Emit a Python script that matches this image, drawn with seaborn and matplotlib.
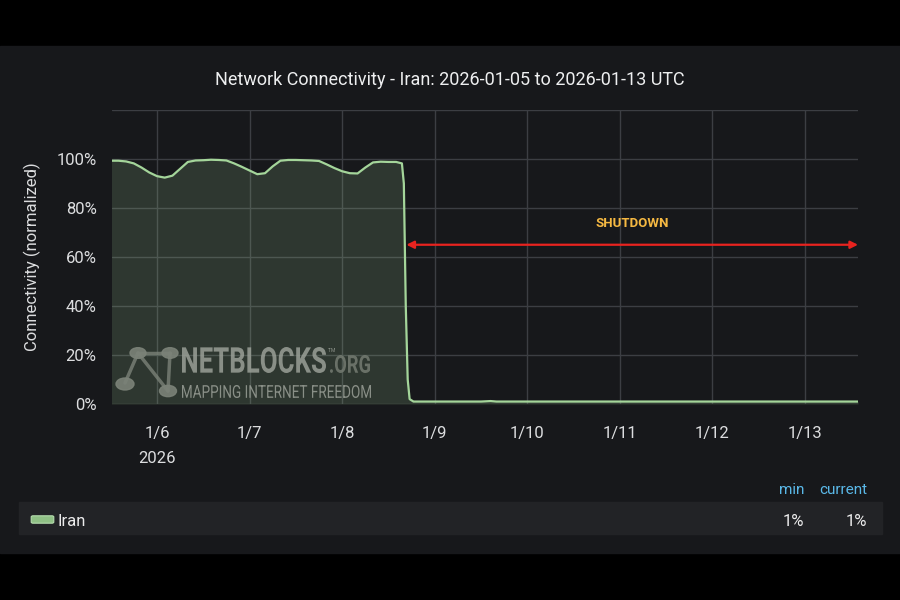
import pandas as pd
import matplotlib
matplotlib.use("Agg")
import matplotlib.pyplot as plt
import seaborn as sns
from matplotlib.patches import Rectangle, FancyBboxPatch, Circle, PathPatch
from matplotlib.lines import Line2D
from matplotlib.textpath import TextPath
from matplotlib.font_manager import FontProperties
from matplotlib.transforms import Affine2D

# --- DATA ---
TIMES = [
    "2026-01-05 12:00", "2026-01-05 14:00", "2026-01-05 16:00", "2026-01-05 18:00",
    "2026-01-05 20:00", "2026-01-05 22:00", "2026-01-06 00:00", "2026-01-06 02:00",
    "2026-01-06 04:00", "2026-01-06 06:00", "2026-01-06 08:00", "2026-01-06 10:00",
    "2026-01-06 12:00", "2026-01-06 14:00", "2026-01-06 16:00", "2026-01-06 18:00",
    "2026-01-06 20:00", "2026-01-06 22:00", "2026-01-07 00:00", "2026-01-07 02:00",
    "2026-01-07 04:00", "2026-01-07 06:00", "2026-01-07 08:00", "2026-01-07 10:00",
    "2026-01-07 12:00", "2026-01-07 14:00", "2026-01-07 16:00", "2026-01-07 18:00",
    "2026-01-07 20:00", "2026-01-07 22:00", "2026-01-08 00:00", "2026-01-08 02:00",
    "2026-01-08 04:00", "2026-01-08 06:00", "2026-01-08 08:00", "2026-01-08 10:00",
    "2026-01-08 12:00", "2026-01-08 14:00", "2026-01-08 15:30", "2026-01-08 16:00",
    "2026-01-08 16:30", "2026-01-08 17:00", "2026-01-08 17:30", "2026-01-08 18:30",
    "2026-01-09 00:00", "2026-01-09 12:00", "2026-01-09 14:30", "2026-01-09 16:00",
    "2026-01-10 00:00", "2026-01-10 12:00", "2026-01-11 00:00", "2026-01-11 12:00",
    "2026-01-12 00:00", "2026-01-12 12:00", "2026-01-13 00:00", "2026-01-13 13:45",
]
CONNECTIVITY = [
    99.3, 99.3, 99.0, 98.2,
    96.5, 94.5, 93.0, 92.4,
    93.2, 96.0, 98.8, 99.4,
    99.5, 99.7, 99.6, 99.4,
    98.2, 96.8, 95.3, 93.8,
    94.2, 97.0, 99.3, 99.6,
    99.6, 99.5, 99.4, 99.2,
    97.8, 96.3, 95.0, 94.2,
    94.1, 96.5, 98.6, 98.9,
    98.8, 98.8, 98.2, 90.0,
    40.0, 10.0, 2.0, 1.0,
    1.0, 1.0, 1.2, 1.0,
    1.0, 1.0, 1.0, 1.0,
    1.0, 1.0, 1.0, 1.0,
]
TICK_DATES = ["2026-01-06", "2026-01-07", "2026-01-08", "2026-01-09",
              "2026-01-10", "2026-01-11", "2026-01-12", "2026-01-13"]
TICK_LABELS = ["1/6\n2026", "1/7", "1/8", "1/9", "1/10", "1/11", "1/12", "1/13"]
Y_TICKS = [0, 20, 40, 60, 80, 100, 120]
Y_LABELS = ["0%", "20%", "40%", "60%", "80%", "100%", ""]
X_RANGE = ["2026-01-05 12:20", "2026-01-13 13:45"]
SHUTDOWN_START = "2026-01-08 16:40"
SHUTDOWN_LEVEL = 65
SHUTDOWN_LABEL_AT = ("2026-01-11 03:20", 73.5)
SERIES_NAME = "Iran"
STAT_NAMES = ["min", "current"]
STAT_VALUES = ["1%", "1%"]

# --- STYLE ---
BLACK = "#000000"
PANEL = "#17181b"
LEGEND_BG = "#222326"
GRID = "#3c3e43"
LINE = "#a4d59a"
TEXT = "#dcdddf"
BLUE = "#5ab8e8"
RED = "#e8231f"
ORANGE = "#f5b842"

sns.set_theme(style="darkgrid")
plt.rcParams["font.family"] = ["Roboto", "DejaVu Sans"]

W, H = 900, 600


def fx(x):
    return x / W


def fy(y):
    return 1 - y / H


def main():
    df = pd.DataFrame({"time": pd.to_datetime(TIMES), "conn": CONNECTIVITY})

    fig = plt.figure(figsize=(9, 6), dpi=100, facecolor=BLACK)
    # grafana style panel between the black bars
    fig.patches.append(Rectangle((0, fy(553)), 1, (553 - 46) / H,
                                 transform=fig.transFigure, color=PANEL, zorder=-10))

    ax = fig.add_axes([fx(112), fy(404), fx(858) - fx(112), fy(110) - fy(404)])
    ax.set_facecolor(PANEL)

    ax.fill_between(df["time"], df["conn"], color=LINE, alpha=0.17, linewidth=0, zorder=2)
    sns.lineplot(data=df, x="time", y="conn", ax=ax, color=LINE, linewidth=1.6,
                 estimator=None, zorder=3)

    ax.set_xlim(pd.to_datetime(X_RANGE[0]), pd.to_datetime(X_RANGE[1]))
    ax.set_ylim(0, 120)
    ax.set_xticks(pd.to_datetime(TICK_DATES))
    ax.set_xticklabels(TICK_LABELS)
    ax.set_yticks(Y_TICKS)
    ax.set_yticklabels(Y_LABELS)
    for lbl in ax.get_xticklabels():
        lbl.set_linespacing(1.8)

    ax.grid(True, color=GRID, linewidth=1)
    for s in ax.spines.values():
        s.set_visible(False)
    ax.tick_params(axis="both", length=0, labelcolor=TEXT, labelsize=12)
    ax.tick_params(axis="x", pad=16)
    ax.tick_params(axis="y", pad=11)
    ax.set_xlabel("")
    ax.set_ylabel("Connectivity (normalized)", color=TEXT, fontsize=12)
    ax.yaxis.set_label_coords((41 - 112) / 746, 0.5)

    # shutdown arrow
    ax.annotate("", xy=(pd.to_datetime(X_RANGE[1]), SHUTDOWN_LEVEL),
                xytext=(pd.to_datetime(SHUTDOWN_START), SHUTDOWN_LEVEL),
                arrowprops=dict(arrowstyle="<|-|>", color=RED, lw=1.6,
                                mutation_scale=11, shrinkA=0, shrinkB=0),
                zorder=5, annotation_clip=False)
    ax.text(pd.to_datetime(SHUTDOWN_LABEL_AT[0]), SHUTDOWN_LABEL_AT[1], "SHUTDOWN",
            color=ORANGE, fontsize=9.5, fontweight="bold", ha="center", va="center")

    fig.text(0.5, fy(80), "Network Connectivity - Iran: 2026-01-05 to 2026-01-13 UTC",
             color="#eeeff0", fontsize=13, ha="center", va="center")

    # watermark logo
    wm = dict(transform=fig.transFigure, zorder=4)
    logo = "#7b8278"
    for (a, b) in [((138, 353), (125, 383)), ((138, 353), (168, 391)),
                   ((170, 353), (168, 391)), ((138, 353), (170, 353))]:
        fig.lines.append(Line2D([fx(a[0]), fx(b[0])], [fy(a[1]), fy(b[1])],
                                color=logo, lw=2.5, alpha=0.8, **wm))
    for (cx, cy, r) in [(138, 353, 8), (170, 353, 8), (125, 384, 9), (168, 391, 8.5)]:
        fig.patches.append(Circle((fx(cx), fy(cy)), r / W, color=logo, alpha=0.9, **wm))

    def fit_text(s, x0, y0, x1, y1, color, weight="normal"):
        tp = TextPath((0, 0), s, size=1, prop=FontProperties(family="Roboto", weight=weight))
        ext = tp.get_extents()
        sx = (fx(x1) - fx(x0)) / ext.width
        sy = (fy(y0) - fy(y1)) / ext.height
        tr = Affine2D().translate(-ext.x0, -ext.y0).scale(sx, sy).translate(fx(x0), fy(y1))
        fig.patches.append(PathPatch(tr.transform_path(tp), color=color, lw=0,
                                     alpha=0.85, **wm))

    fit_text("NETBLOCKS", 182, 347, 326, 373, "#9a9f97", "bold")
    fit_text("TM", 328, 348, 335, 352, "#9a9f97")
    fit_text(".ORG", 330, 355, 370, 373, "#747b71", "bold")
    fit_text("MAPPING INTERNET FREEDOM", 182, 385, 371, 398, "#9a9f97")

    # legend table
    fig.patches.append(Rectangle((fx(19), fy(534)), fx(882) - fx(19), (534 - 502) / H,
                                 transform=fig.transFigure, color=LEGEND_BG, zorder=-5))
    fig.patches.append(FancyBboxPatch((fx(33), fy(522)), fx(52) - fx(33), 5 / H,
                                      boxstyle="round,pad=0.002", transform=fig.transFigure,
                                      facecolor="#8fc085", edgecolor="#b5dcae", lw=0.8))
    fig.text(fx(57), fy(521), SERIES_NAME, color="#ececec", fontsize=12,
             ha="left", va="center")
    for name, cx in zip(STAT_NAMES, [792, 843]):
        fig.text(fx(cx), fy(490), name, color=BLUE, fontsize=11, ha="center", va="center")
    for val, rx in zip(STAT_VALUES, [804, 867]):
        fig.text(fx(rx), fy(521), val, color="#ececec", fontsize=12, ha="right", va="center")

    fig.savefig("out.png", dpi=100, facecolor=BLACK)


if __name__ == "__main__":
    main()
